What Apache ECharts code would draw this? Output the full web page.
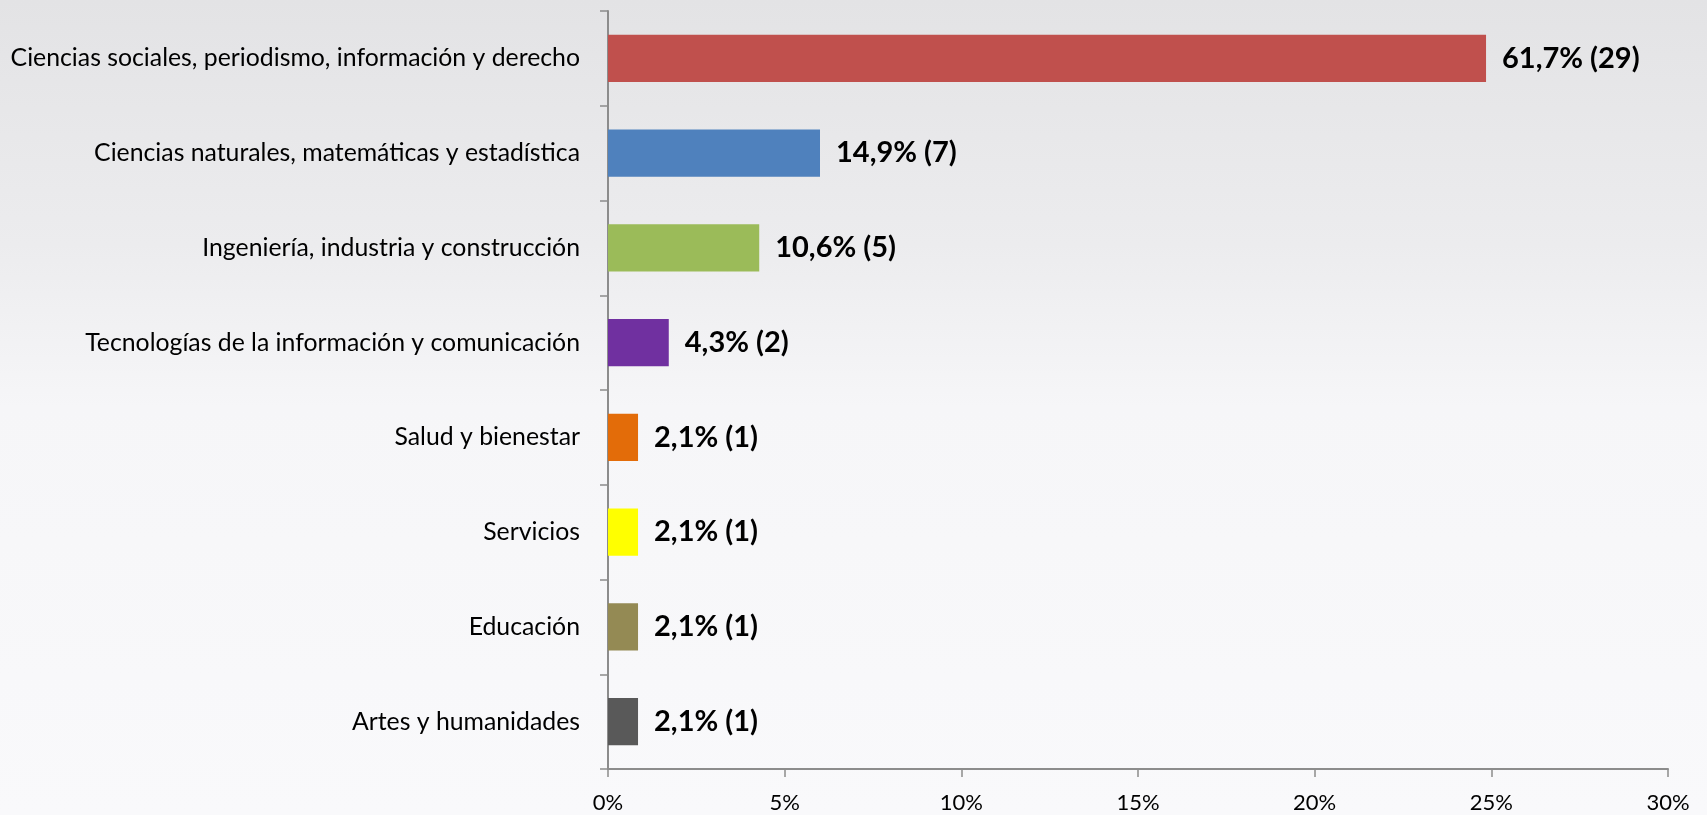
<!DOCTYPE html>
<html lang="es">
<head>
  <meta charset="UTF-8">
  <title>Áreas de conocimiento</title>
  <style>
    html, body {
      margin: 0;
      padding: 0;
      background: #f8f8fa;
    }

    .chart {
      width: 1707px;
      height: 815px;
    }
  </style>
</head>
<body>
  <div class="chart" id="barChart"></div>

  <script src="https://cdn.jsdelivr.net/npm/echarts@6/dist/echarts.min.js"></script>
  <script>
    // categories, top to bottom
    const categories = [
      'Ciencias sociales, periodismo, información y derecho',
      'Ciencias naturales, matemáticas y estadística',
      'Ingeniería, industria y construcción',
      'Tecnologías de la información y comunicación',
      'Salud y bienestar',
      'Servicios',
      'Educación',
      'Artes y humanidades'
    ]

    // bar length as drawn on the axis (%)
    const barValues = [24.85, 6.0, 4.28, 1.72, 0.85, 0.85, 0.85, 0.85]

    // label texts
    const pctLabels = ['61,7%', '14,9%', '10,6%', '4,3%', '2,1%', '2,1%', '2,1%', '2,1%']
    const counts = [29, 7, 5, 2, 1, 1, 1, 1]

    const barColors = [
      '#c0504d', '#4f81bd', '#9bbb59', '#7030a0',
      '#e36c09', '#ffff00', '#948a54', '#595959'
    ]

    const xTicks = [0, 5, 10, 15, 20, 25, 30]

    const font = 'Lato, "Open Sans", sans-serif'
    const axisGrey = '#8c8c8c'

    const chart = echarts.init(document.getElementById('barChart'))

    chart.setOption({
      backgroundColor: {
        type: 'linear', x: 0, y: 0, x2: 0, y2: 1,
        colorStops: [
          { offset: 0, color: '#e3e3e5' },
          { offset: 0.3, color: '#ececee' },
          { offset: 0.5, color: '#f6f6f8' },
          { offset: 1, color: '#f9f9fb' }
        ]
      },
      animation: false,
      grid: {
        left: 608,
        right: 39,
        top: 11,
        bottom: 46
      },
      xAxis: {
        type: 'value',
        min: xTicks[0],
        max: xTicks[xTicks.length - 1],
        interval: 5,
        splitLine: { show: false },
        axisLine: { show: true, lineStyle: { color: axisGrey, width: 2 } },
        axisTick: { show: true, length: 8, lineStyle: { color: axisGrey, width: 1.5 } },
        axisLabel: {
          formatter: '{value}%',
          color: '#000',
          fontFamily: font,
          fontSize: 22,
          margin: 23
        }
      },
      yAxis: {
        type: 'category',
        inverse: true,
        data: categories,
        axisLine: { show: true, lineStyle: { color: axisGrey, width: 2 } },
        axisTick: { show: true, length: 8, lineStyle: { color: axisGrey, width: 1.5 } },
        axisLabel: {
          color: '#000',
          fontFamily: font,
          fontSize: 24.8,
          margin: 28
        }
      },
      series: [{
        type: 'bar',
        barCategoryGap: '50%',
        data: barValues.map((v, i) => ({
          value: v,
          itemStyle: { color: barColors[i] }
        })),
        label: {
          show: true,
          position: 'right',
          distance: 16,
          color: '#000',
          fontFamily: font,
          fontWeight: 'bold',
          fontSize: 29,
          formatter: p => `${pctLabels[p.dataIndex]} (${counts[p.dataIndex]})`
        }
      }]
    })
  </script>
</body>
</html>
